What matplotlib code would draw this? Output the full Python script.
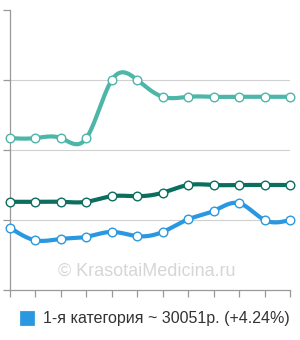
import numpy as np
import matplotlib
matplotlib.use("Agg")
import matplotlib.pyplot as plt

plt.rcParams['font.family'] = ['Liberation Sans', 'DejaVu Sans']

x_idx = list(range(12))
series_top = [2.17, 2.17, 2.17, 2.17, 3.0, 3.0, 2.76, 2.76, 2.76, 2.76, 2.76, 2.76]
series_dark = [1.26, 1.26, 1.26, 1.26, 1.34, 1.34, 1.39, 1.5, 1.5, 1.5, 1.5, 1.5]
series_blue = [0.89, 0.71, 0.73, 0.76, 0.83, 0.77, 0.83, 1.01, 1.13, 1.24, 1.0, 1.0]
legend_label = "1-я категория ~ 30051р. (+4.24%)"
watermark = "© KrasotaiMedicina.ru"

col_top = '#4db6a9'
col_dark = '#0b6e5f'
col_blue = '#2a98e0'


def natural_spline(x, y, n=40):
    x = np.asarray(x, float)
    y = np.asarray(y, float)
    N = len(x)
    h = np.diff(x)
    A = np.zeros((N, N))
    b = np.zeros(N)
    A[0, 0] = 1
    A[-1, -1] = 1
    for i in range(1, N - 1):
        A[i, i - 1] = h[i - 1]
        A[i, i] = 2 * (h[i - 1] + h[i])
        A[i, i + 1] = h[i]
        b[i] = 6 * ((y[i + 1] - y[i]) / h[i] - (y[i] - y[i - 1]) / h[i - 1])
    M = np.linalg.solve(A, b)
    xs, ys = [], []
    for i in range(N - 1):
        t = np.linspace(x[i], x[i + 1], n, endpoint=(i == N - 2))
        a = x[i + 1] - t
        c = t - x[i]
        s = (M[i] * a ** 3 + M[i + 1] * c ** 3) / (6 * h[i]) \
            + (y[i] / h[i] - M[i] * h[i] / 6) * a \
            + (y[i + 1] / h[i] - M[i + 1] * h[i] / 6) * c
        xs.append(t)
        ys.append(s)
    return np.concatenate(xs), np.concatenate(ys)


fig = plt.figure(figsize=(3.0, 3.4), dpi=100)
ax = fig.add_axes([10 / 300, 50 / 340, 280 / 300, 280 / 340])
ax.set_xlim(0, 11)
ax.set_ylim(0, 4)

for yv in [1, 2, 3]:
    ax.axhline(yv, color='#d0d0d0', lw=0.8, zorder=1)

for data, col in [(series_top, col_top), (series_dark, col_dark), (series_blue, col_blue)]:
    sx, sy = natural_spline(x_idx, data)
    ax.plot(sx, sy, color=col, lw=3.0, solid_capstyle='round', zorder=3, clip_on=False)
    ax.plot(x_idx, data, linestyle='none', marker='o', ms=6.2, mfc='white',
            mec=col, mew=1.0, zorder=4, clip_on=False)

for s in ['top', 'right']:
    ax.spines[s].set_visible(False)
for s in ['left', 'bottom']:
    ax.spines[s].set_color('#999999')
    ax.spines[s].set_linewidth(0.9)
ax.set_yticks([0, 1, 2, 3, 4])
ax.set_yticklabels([])
ax.set_xticks(x_idx)
ax.set_xticklabels([])
ax.tick_params(axis='y', length=5, color='#999999', width=0.9)
ax.tick_params(axis='x', length=5, color='#999999', width=0.9)

fig.text(147 / 300, 1 - 271 / 340, watermark, ha='center', va='center',
         fontsize=13, color='#d6d6d6', zorder=0)

# legend
fig.patches.append(matplotlib.patches.FancyBboxPatch(
    (21 / 300, 1 - 325 / 340), 13 / 300, 13 / 340,
    boxstyle='round,pad=0.002', transform=fig.transFigure,
    facecolor=col_blue, edgecolor=col_blue, lw=0.5))
fig.text(43 / 300, 1 - 318.5 / 340, legend_label, ha='left', va='center',
         fontsize=11.5, color='#333333')

fig.savefig('out.png', dpi=100)
